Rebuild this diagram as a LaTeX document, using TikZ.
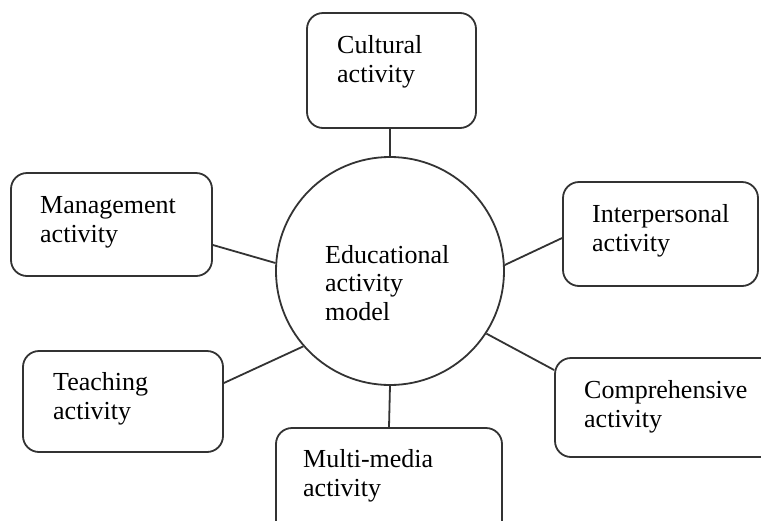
\documentclass[tikz,border=0pt]{standalone}
\usepackage{fontspec}
\setmainfont{Liberation Serif}
\begin{document}
\begin{tikzpicture}[x=1pt,y=-1pt,
  box/.style={draw=black!80, line width=1.8pt, rounded corners=16pt, fill=white},
  hub/.style={draw=black!80, line width=1.8pt, circle, minimum size=228pt, inner sep=0pt},
  lbl/.style={anchor=base west, inner sep=0pt, align=left, font=\fontsize{26}{28.5}\selectfont},
  link/.style={draw=black!80, line width=1.8pt}]
\useasboundingbox (0,0) rectangle (761,520);
\clip (0,0) rectangle (761,520);
% central circle
\node[hub] (edu) at (390,271) {};
% boxes
\node[box, minimum width=169pt, minimum height=115pt] (cult) at (391.5,70.5) {};
\node[box, minimum width=201pt, minimum height=103pt] (mgmt) at (111.5,224.5) {};
\node[box, minimum width=195pt, minimum height=104pt] (inter) at (660.5,234) {};
\node[box, minimum width=200pt, minimum height=101pt] (teach) at (123,401.5) {};
\node[box, minimum width=225pt, minimum height=99pt] (comp) at (667.5,407.5) {};
\node[box, minimum width=226pt, minimum height=117pt] (mm) at (389,486.5) {};
% connectors
\draw[link] (edu.north |- cult.south) -- (edu.north);
\draw[link] ([yshift=-20.5pt]mgmt.east) -- (edu.176);
\draw[link] ([yshift=-4pt]inter.west) -- (edu.3.6);
\draw[link] ([yshift=18.5pt]teach.east) -- (edu.221.6);
\draw[link] ([yshift=37.5pt]comp.west) -- (edu.-33);
\draw[link] (mm.north) -- (edu.south);
% labels (anchor = baseline of last line)
\node[lbl] (tcult) at (337,82) {Cultural\\activity};
\node[lbl] (tmgmt) at (40,242) {Management\\activity};
\node[lbl] (tinter) at (592,251) {Interpersonal\\activity};
\node[lbl] (tedu) at (325,320) {Educational\\activity\\model};
\node[lbl] (tteach) at (53,419) {Teaching\\activity};
\node[lbl] (tcomp) at (584,427) {Comprehensive\\activity};
\node[lbl] (tmm) at (303,496) {Multi-media\\activity};
\end{tikzpicture}
\end{document}
